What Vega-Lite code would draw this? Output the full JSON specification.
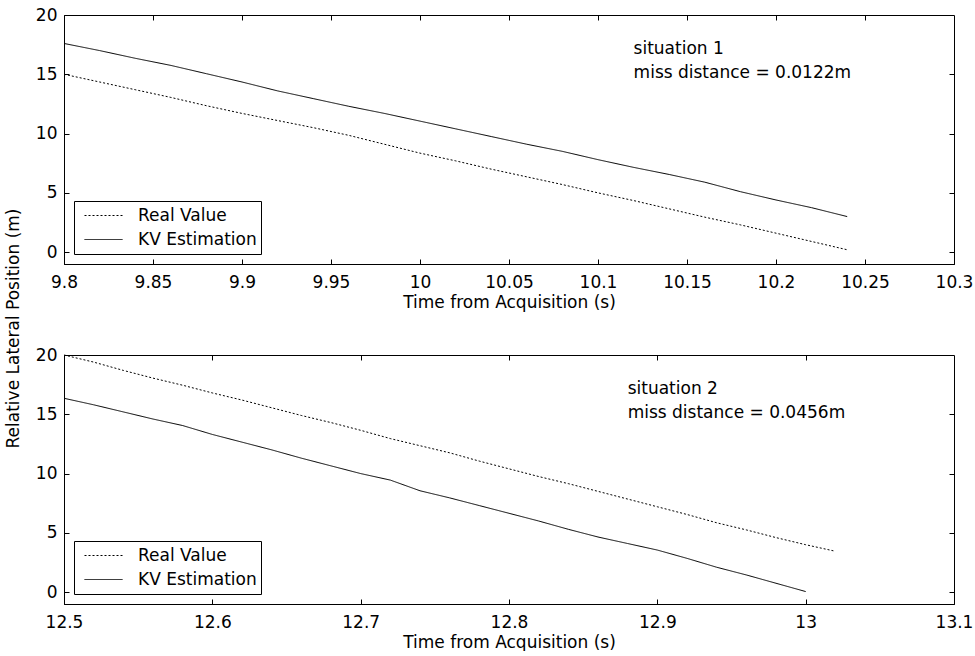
{
  "$schema": "https://vega.github.io/schema/vega-lite/v6.json",
  "background": "white",
  "padding": {"left": 3, "top": 5, "right": 0, "bottom": 0},
  "datasets": {
    "top": [
      {"t": 9.80, "v": 15.0, "series": "Real Value"},
      {"t": 9.82, "v": 14.35, "series": "Real Value"},
      {"t": 9.84, "v": 13.7, "series": "Real Value"},
      {"t": 9.86, "v": 13.05, "series": "Real Value"},
      {"t": 9.88, "v": 12.35, "series": "Real Value"},
      {"t": 9.90, "v": 11.7, "series": "Real Value"},
      {"t": 9.92, "v": 11.1, "series": "Real Value"},
      {"t": 9.94, "v": 10.5, "series": "Real Value"},
      {"t": 9.96, "v": 9.85, "series": "Real Value"},
      {"t": 9.98, "v": 9.1, "series": "Real Value"},
      {"t": 10.00, "v": 8.35, "series": "Real Value"},
      {"t": 10.02, "v": 7.7, "series": "Real Value"},
      {"t": 10.04, "v": 7.0, "series": "Real Value"},
      {"t": 10.06, "v": 6.35, "series": "Real Value"},
      {"t": 10.08, "v": 5.7, "series": "Real Value"},
      {"t": 10.10, "v": 5.0, "series": "Real Value"},
      {"t": 10.12, "v": 4.35, "series": "Real Value"},
      {"t": 10.14, "v": 3.65, "series": "Real Value"},
      {"t": 10.16, "v": 2.95, "series": "Real Value"},
      {"t": 10.18, "v": 2.3, "series": "Real Value"},
      {"t": 10.20, "v": 1.6, "series": "Real Value"},
      {"t": 10.22, "v": 0.9, "series": "Real Value"},
      {"t": 10.24, "v": 0.2, "series": "Real Value"},
      {"t": 9.80, "v": 17.6, "series": "KV Estimation"},
      {"t": 9.82, "v": 17.0, "series": "KV Estimation"},
      {"t": 9.84, "v": 16.35, "series": "KV Estimation"},
      {"t": 9.86, "v": 15.75, "series": "KV Estimation"},
      {"t": 9.88, "v": 15.05, "series": "KV Estimation"},
      {"t": 9.90, "v": 14.35, "series": "KV Estimation"},
      {"t": 9.92, "v": 13.6, "series": "KV Estimation"},
      {"t": 9.94, "v": 12.95, "series": "KV Estimation"},
      {"t": 9.96, "v": 12.3, "series": "KV Estimation"},
      {"t": 9.98, "v": 11.7, "series": "KV Estimation"},
      {"t": 10.00, "v": 11.05, "series": "KV Estimation"},
      {"t": 10.02, "v": 10.4, "series": "KV Estimation"},
      {"t": 10.04, "v": 9.75, "series": "KV Estimation"},
      {"t": 10.06, "v": 9.1, "series": "KV Estimation"},
      {"t": 10.08, "v": 8.5, "series": "KV Estimation"},
      {"t": 10.10, "v": 7.8, "series": "KV Estimation"},
      {"t": 10.12, "v": 7.15, "series": "KV Estimation"},
      {"t": 10.14, "v": 6.55, "series": "KV Estimation"},
      {"t": 10.16, "v": 5.9, "series": "KV Estimation"},
      {"t": 10.18, "v": 5.1, "series": "KV Estimation"},
      {"t": 10.20, "v": 4.4, "series": "KV Estimation"},
      {"t": 10.22, "v": 3.75, "series": "KV Estimation"},
      {"t": 10.24, "v": 3.0, "series": "KV Estimation"}
    ],
    "bottom": [
      {"t": 12.50, "v": 20.0, "series": "Real Value"},
      {"t": 12.52, "v": 19.4, "series": "Real Value"},
      {"t": 12.54, "v": 18.7, "series": "Real Value"},
      {"t": 12.56, "v": 18.05, "series": "Real Value"},
      {"t": 12.58, "v": 17.45, "series": "Real Value"},
      {"t": 12.60, "v": 16.8, "series": "Real Value"},
      {"t": 12.62, "v": 16.2, "series": "Real Value"},
      {"t": 12.64, "v": 15.55, "series": "Real Value"},
      {"t": 12.66, "v": 14.9, "series": "Real Value"},
      {"t": 12.68, "v": 14.3, "series": "Real Value"},
      {"t": 12.70, "v": 13.65, "series": "Real Value"},
      {"t": 12.72, "v": 12.95, "series": "Real Value"},
      {"t": 12.74, "v": 12.35, "series": "Real Value"},
      {"t": 12.76, "v": 11.75, "series": "Real Value"},
      {"t": 12.78, "v": 11.05, "series": "Real Value"},
      {"t": 12.80, "v": 10.4, "series": "Real Value"},
      {"t": 12.82, "v": 9.75, "series": "Real Value"},
      {"t": 12.84, "v": 9.15, "series": "Real Value"},
      {"t": 12.86, "v": 8.5, "series": "Real Value"},
      {"t": 12.88, "v": 7.85, "series": "Real Value"},
      {"t": 12.90, "v": 7.2, "series": "Real Value"},
      {"t": 12.92, "v": 6.55, "series": "Real Value"},
      {"t": 12.94, "v": 5.85, "series": "Real Value"},
      {"t": 12.96, "v": 5.25, "series": "Real Value"},
      {"t": 12.98, "v": 4.6, "series": "Real Value"},
      {"t": 13.00, "v": 4.0, "series": "Real Value"},
      {"t": 13.02, "v": 3.45, "series": "Real Value"},
      {"t": 12.50, "v": 16.35, "series": "KV Estimation"},
      {"t": 12.52, "v": 15.8, "series": "KV Estimation"},
      {"t": 12.54, "v": 15.2, "series": "KV Estimation"},
      {"t": 12.56, "v": 14.6, "series": "KV Estimation"},
      {"t": 12.58, "v": 14.05, "series": "KV Estimation"},
      {"t": 12.60, "v": 13.3, "series": "KV Estimation"},
      {"t": 12.62, "v": 12.65, "series": "KV Estimation"},
      {"t": 12.64, "v": 12.0, "series": "KV Estimation"},
      {"t": 12.66, "v": 11.3, "series": "KV Estimation"},
      {"t": 12.68, "v": 10.65, "series": "KV Estimation"},
      {"t": 12.70, "v": 10.0, "series": "KV Estimation"},
      {"t": 12.72, "v": 9.45, "series": "KV Estimation"},
      {"t": 12.74, "v": 8.55, "series": "KV Estimation"},
      {"t": 12.76, "v": 7.95, "series": "KV Estimation"},
      {"t": 12.78, "v": 7.3, "series": "KV Estimation"},
      {"t": 12.80, "v": 6.65, "series": "KV Estimation"},
      {"t": 12.82, "v": 6.0, "series": "KV Estimation"},
      {"t": 12.84, "v": 5.3, "series": "KV Estimation"},
      {"t": 12.86, "v": 4.65, "series": "KV Estimation"},
      {"t": 12.88, "v": 4.1, "series": "KV Estimation"},
      {"t": 12.90, "v": 3.55, "series": "KV Estimation"},
      {"t": 12.92, "v": 2.85, "series": "KV Estimation"},
      {"t": 12.94, "v": 2.1, "series": "KV Estimation"},
      {"t": 12.96, "v": 1.45, "series": "KV Estimation"},
      {"t": 12.98, "v": 0.75, "series": "KV Estimation"},
      {"t": 13.00, "v": 0.05, "series": "KV Estimation"}
    ],
    "topNotes": [
      {"t": 10.12, "v": 17.1, "label": "situation 1"},
      {"t": 10.12, "v": 15.1, "label": "miss distance = 0.0122m"}
    ],
    "bottomNotes": [
      {"t": 12.88, "v": 17.1, "label": "situation 2"},
      {"t": 12.88, "v": 15.1, "label": "miss distance = 0.0456m"}
    ]
  },
  "vconcat": [
    {
      "width": 890,
      "height": 249,
      "layer": [
        {
          "data": {"name": "top"},
          "mark": {"type": "line", "color": "black", "strokeWidth": 1},
          "encoding": {
            "x": {"field": "t", "type": "quantitative",
                  "scale": {"domain": [9.8, 10.3], "nice": false, "zero": false},
                  "axis": {"orient": "bottom", "values": [9.8, 9.85, 9.9, 9.95, 10, 10.05, 10.1, 10.15, 10.2, 10.25, 10.3], "format": "~g", "title": "Time from Acquisition (s)", "labelPadding": 15, "titlePadding": 4}},
            "y": {"field": "v", "type": "quantitative",
                  "scale": {"domain": [-1, 20], "nice": false, "zero": false},
                  "axis": {"orient": "left", "values": [0, 5, 10, 15, 20], "title": "Relative Lateral Position (m)", "labelPadding": 12, "titleX": -51, "titleY": 313, "titleAlign": "center", "titleBaseline": "middle", "titleAngle": 270}},
            "strokeDash": {"field": "series", "type": "nominal",
                  "scale": {"domain": ["Real Value", "KV Estimation"], "range": [[2, 2], [1, 0]]},
                  "legend": {"orient": "bottom-left", "offset": 10, "title": null}}
          }
        },
        {
          "data": {"name": "topNotes"},
          "mark": {"type": "text", "align": "left", "baseline": "middle", "font": "DejaVu Sans", "fontSize": 17, "color": "black"},
          "encoding": {
            "x": {"field": "t", "type": "quantitative",
                  "scale": {"domain": [9.8, 10.3], "nice": false, "zero": false},
                  "axis": {"orient": "top", "values": [9.85, 9.9, 9.95, 10, 10.05, 10.1, 10.15, 10.2, 10.25], "labels": false, "title": null, "domain": false}},
            "y": {"field": "v", "type": "quantitative",
                  "scale": {"domain": [-1, 20], "nice": false, "zero": false},
                  "axis": {"orient": "right", "values": [0, 5, 10, 15], "labels": false, "title": null, "domain": false}},
            "text": {"field": "label"}
          }
        }
      ],
      "resolve": {"axis": {"x": "independent", "y": "independent"}}
    },
    {
      "width": 890,
      "height": 249,
      "layer": [
        {
          "data": {"name": "bottom"},
          "mark": {"type": "line", "color": "black", "strokeWidth": 1},
          "encoding": {
            "x": {"field": "t", "type": "quantitative",
                  "scale": {"domain": [12.5, 13.1], "nice": false, "zero": false},
                  "axis": {"orient": "bottom", "values": [12.5, 12.6, 12.7, 12.8, 12.9, 13, 13.1], "format": "~g", "title": "Time from Acquisition (s)", "labelPadding": 15, "titlePadding": 4}},
            "y": {"field": "v", "type": "quantitative",
                  "scale": {"domain": [-1, 20], "nice": false, "zero": false},
                  "axis": {"orient": "left", "values": [0, 5, 10, 15, 20], "title": null, "labelPadding": 12}},
            "strokeDash": {"field": "series", "type": "nominal",
                  "scale": {"domain": ["Real Value", "KV Estimation"], "range": [[2, 2], [1, 0]]},
                  "legend": {"orient": "bottom-left", "offset": 10, "title": null}}
          }
        },
        {
          "data": {"name": "bottomNotes"},
          "mark": {"type": "text", "align": "left", "baseline": "middle", "font": "DejaVu Sans", "fontSize": 17, "color": "black"},
          "encoding": {
            "x": {"field": "t", "type": "quantitative",
                  "scale": {"domain": [12.5, 13.1], "nice": false, "zero": false},
                  "axis": {"orient": "top", "values": [12.6, 12.7, 12.8, 12.9, 13], "labels": false, "title": null, "domain": false}},
            "y": {"field": "v", "type": "quantitative",
                  "scale": {"domain": [-1, 20], "nice": false, "zero": false},
                  "axis": {"orient": "right", "values": [0, 5, 10, 15], "labels": false, "title": null, "domain": false}},
            "text": {"field": "label"}
          }
        }
      ],
      "resolve": {"axis": {"x": "independent", "y": "independent"}}
    }
  ],
  "spacing": 91,
  "bounds": "flush",
  "resolve": {"scale": {"strokeDash": "independent"}, "legend": {"strokeDash": "independent"}},
  "config": {
    "view": {"stroke": "black", "strokeWidth": 1},
    "axis": {
      "grid": false,
      "domainColor": "black",
      "tickColor": "black",
      "tickSize": -5,
      "labelColor": "black",
      "titleColor": "black",
      "labelFont": "DejaVu Sans",
      "titleFont": "DejaVu Sans",
      "labelFontSize": 17,
      "titleFontSize": 17,
      "titleFontWeight": "normal",
      "labelFlush": false,
      "labelOverlap": false,
      "labelBound": false
    },
    "legend": {
      "strokeColor": "black",
      "fillColor": "white",
      "padding": 4,
      "cornerRadius": 0,
      "symbolType": "stroke",
      "symbolSize": 1444,
      "symbolStrokeColor": "black",
      "symbolStrokeWidth": 1,
      "symbolOffset": 6,
      "labelFont": "DejaVu Sans",
      "labelFontSize": 17,
      "labelColor": "black",
      "labelOffset": 15,
      "clipHeight": 21,
      "rowPadding": 3
    }
  }
}
